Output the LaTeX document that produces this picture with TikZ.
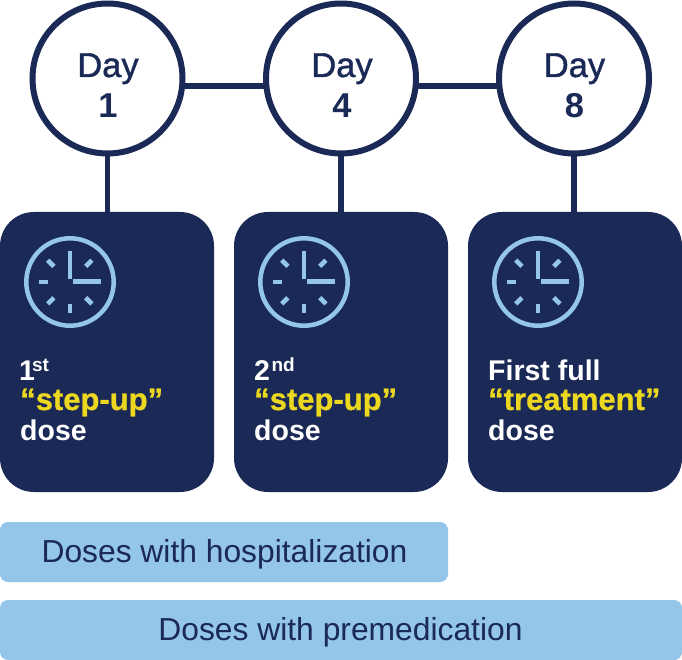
\documentclass[tikz,border=0pt]{standalone}
\usepackage{fontspec}
\setmainfont{Liberation Sans}
\usetikzlibrary{backgrounds}
\definecolor{navy}{HTML}{1A2956}
\definecolor{sky}{HTML}{93C6E8}
\definecolor{gold}{HTML}{EBD81F}
\tikzset{
  daycircle/.style={circle,draw=navy,line width=6pt,fill=white,inner sep=0pt,minimum size=150pt},
  daytext/.style={anchor=base,text=navy,inner sep=0pt,font=\fontsize{34.5}{41}\selectfont\addfontfeature{FakeBold=1.2}},
  daynum/.style={anchor=base,text=navy,inner sep=0pt,font=\fontsize{34.5}{41}\selectfont\bfseries},
  link/.style={draw=navy,line width=5.6pt},
  card/.style={fill=navy,rounded corners=34pt,inner sep=0pt,minimum width=214pt,minimum height=280pt},
  cardtext/.style={anchor=base west,inner sep=0pt,font=\fontsize{28.5}{30}\selectfont\bfseries,text=white},
  hilite/.style={anchor=base west,inner sep=0pt,font=\fontsize{31}{30}\selectfont\bfseries\addfontfeature{FakeBold=0.8},text=gold},
  bar/.style={fill=sky,rounded corners=8pt,inner sep=0pt,minimum height=60pt},
  bartext/.style={anchor=base,inner sep=0pt,text=navy,font=\fontsize{31.8}{32}\selectfont},
  clockring/.style={draw=sky,line width=4.5pt},
  clocktick/.style={draw=sky,line width=4.6pt},
}
\newcommand{\clockface}[1]{%
  \begin{scope}[shift={(#1)}]
    \draw[clockring] (0,0) circle[radius=43.7];
    \draw[clocktick] (0,-31.3) -- (0,-3);
    \draw[clocktick] (3,-0.3) -- (31.3,-0.3);
    \draw[clocktick] (-31,0) -- (-22,0);
    \draw[clocktick] (0,22) -- (0,31.3);
    \draw[clocktick] (-22.3,-21.8) -- (-16.1,-15.6);
    \draw[clocktick] (21.9,-21.8) -- (15.7,-15.6);
    \draw[clocktick] (-22.3,21.9) -- (-16.1,15.7);
    \draw[clocktick] (21.9,21.9) -- (15.7,15.7);
  \end{scope}}
\newcommand{\ordmark}[1]{\raisebox{8.5pt}{\fontsize{19}{20}\selectfont #1}}
\begin{document}
\begin{tikzpicture}[x=1pt,y=-1pt]
\useasboundingbox (0,0) rectangle (682,660);
% circles
\node[daycircle] (d1) at (107.5,78.5) {};
\node[daycircle] (d4) at (341,78.5) {};
\node[daycircle] (d8) at (574,78.5) {};
\node[daytext] (d1a) at (108,77) {Day};
\node[daynum] (d1b) at (108,118) {1};
\node[daytext] (d4a) at (342,77) {Day};
\node[daynum] (d4b) at (342,118) {4};
\node[daytext] (d8a) at (574.5,77) {Day};
\node[daynum] (d8b) at (574.5,118) {8};
% cards
\node[card] (c1) at (107,352) {};
\node[card] (c2) at (341,352) {};
\node[card] (c3) at (575,352) {};
% connectors
\begin{scope}[on background layer]
  \draw[link,line width=6pt] ([yshift=-7.3pt]d1.center) -- ([yshift=-7.3pt]d4.center);
  \draw[link,line width=6pt] ([yshift=-7.3pt]d4.center) -- ([yshift=-7.3pt]d8.center);
  \draw[link] (d1.center) -- (d1.center |- c1.north);
  \draw[link] (d4.center) -- (d4.center |- c2.north);
  \draw[link] (d8.center) -- (d8.center |- c3.north);
\end{scope}
% clocks
\clockface{70,282}
\clockface{304,282}
\clockface{538,282}
% card texts
\node[cardtext] (t1a) at (19,380) {1\kern-3pt\ordmark{st}};
\node[hilite] (t1b) at (20,410) {“step-up”};
\node[cardtext] (t1c) at (20,440) {dose};
\node[cardtext] (t2a) at (254,380) {2\kern1.5pt\ordmark{nd}};
\node[hilite] (t2b) at (254,410) {“step-up”};
\node[cardtext] (t2c) at (254,440) {dose};
\node[cardtext] (t3a) at (488,380) {First full};
\node[hilite] (t3b) at (488,410) {“treatment”};
\node[cardtext] (t3c) at (488,440) {dose};
% bars
\node[bar,minimum width=448pt] (b1) at (224,552) {};
\node[bar,minimum width=682pt] (b2) at (341,630) {};
\node[bartext] (b1t) at (224.5,562) {Doses with hospitalization};
\node[bartext] (b2t) at (340.5,640) {Doses with premedication};
\end{tikzpicture}
\end{document}
